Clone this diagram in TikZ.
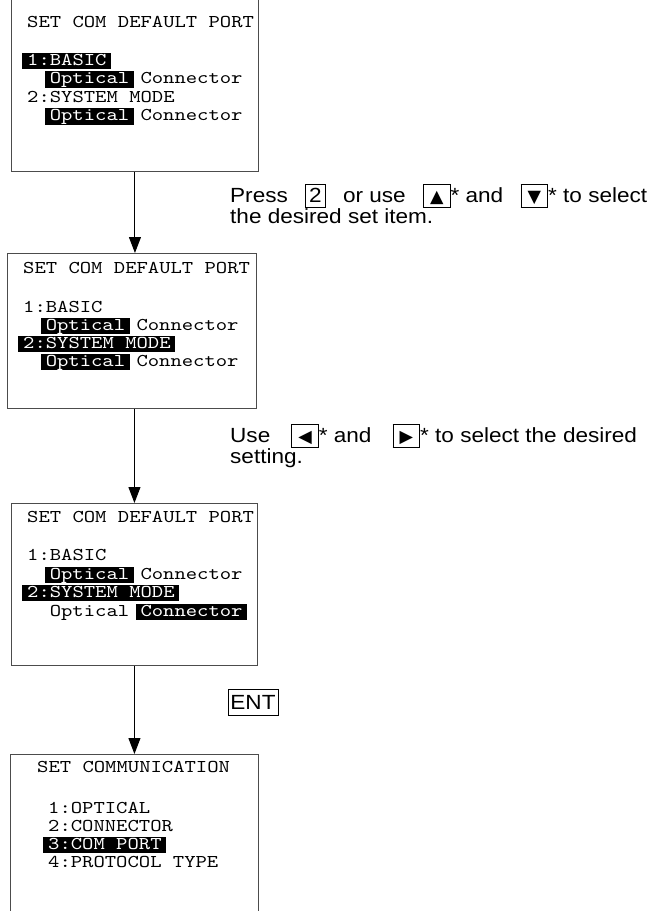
\documentclass[tikz,border=0pt]{standalone}
\usepackage{fontspec}
\setmainfont[FakeStretch=1.1]{Liberation Sans}
\newfontfamily\scrfont[FakeStretch=1.2]{lmmono10-regular.otf}
\newfontfamily\symfont{DejaVu Sans}
\usetikzlibrary{arrows.meta}
\newlength\hlw
\newcommand\hl[1]{\settowidth\hlw{#1}\rlap{\hspace{-5pt}\rule[-4pt]{\dimexpr\hlw+9.5pt\relax}{16.5pt}}\textcolor{white}{#1}}
\newcommand\keybox[2]{{\setlength\fboxsep{0pt}\setlength\fboxrule{0.8pt}\fbox{\makebox[#1]{\rule[-4.5pt]{0pt}{21.5pt}#2}}}}
\newcommand\tri[1]{\keybox{26pt}{{\symfont\fontsize{17.5}{17.5}\selectfont #1}}}
\newcommand\gapa{\hspace{17.3pt}}
\newcommand\gapb{\hspace{21pt}}
\begin{document}
\begin{tikzpicture}[x=1pt,y=-1pt,
  scr/.style={draw=black!70,line width=0.9pt,inner sep=0pt,anchor=north west},
  ln/.style={inner sep=0pt,anchor=base west,font=\scrfont\fontsize{18}{18}\selectfont},
  note/.style={inner sep=0pt,anchor=base west,font=\fontsize{20.5}{20.5}\selectfont},
  arr/.style={line width=1pt,-{Triangle[width=12pt,length=16pt]}}]
\useasboundingbox (0,0) rectangle (652,911);
\clip (0,0) rectangle (652,911);
% screens
\node[scr,minimum width=247pt,minimum height=174pt] (b1) at (11,-3) {};
\node[scr,minimum width=249pt,minimum height=155pt] (b2) at (7,253) {};
\node[scr,minimum width=246pt,minimum height=162pt] (b3) at (11,503) {};
\node[scr,minimum width=248pt,minimum height=170pt] (b4) at (10,754) {};
% screen 1
\node[ln] (s1t) at (27,27) {SET COM DEFAULT PORT};
\node[ln] (s1a) at (27,65) {\hl{1:BASIC}};
\node[ln] (s1b) at (49.6,83.5) {\hl{Optical} Connector};
\node[ln] (s1c) at (27,102) {2:SYSTEM MODE};
\node[ln] (s1d) at (49.6,120.5) {\hl{Optical} Connector};
% screen 2
\node[ln] (s2t) at (23,273) {SET COM DEFAULT PORT};
\node[ln] (s2a) at (23,312) {1:BASIC};
\node[ln] (s2b) at (45.6,330) {\hl{Optical} Connector};
\node[ln] (s2c) at (23,348) {\hl{2:SYSTEM MODE}};
\node[ln] (s2d) at (45.6,366) {\hl{Optical} Connector};
% screen 3
\node[ln] (s3t) at (27,522) {SET COM DEFAULT PORT};
\node[ln] (s3a) at (27,560) {1:BASIC};
\node[ln] (s3b) at (49.6,579) {\hl{Optical} Connector};
\node[ln] (s3c) at (27,597) {\hl{2:SYSTEM MODE}};
\node[ln] (s3d) at (49.6,616) {Optical \hl{Connector}};
% screen 4
\node[ln] (s4t) at (37,772) {SET COMMUNICATION};
\node[ln] (s4a) at (48,813) {1:OPTICAL};
\node[ln] (s4b) at (48,831) {2:CONNECTOR};
\node[ln] (s4c) at (48,849) {\hl{3:COM PORT}};
\node[ln] (s4d) at (48,867) {4:PROTOCOL TYPE};
% arrows
\draw[arr] (b1.south) -- (b1.south |- b2.north);
\draw[arr] (b3.north |- b2.south) -- (b3.north);
\draw[arr] (b3.south) -- (b3.south |- b4.north);
% notes
\node[note] (n1a) at (230,202) {Press\gapa\keybox{19pt}{2}\gapa or use\gapa\tri{▲}* and\gapa\tri{▼}* to select};
\node[note] (n1b) at (230,223) {the desired set item.};
\node[note] (n2a) at (230,442) {Use\gapb\tri{◀}* and\gapb\tri{▶}* to select the desired};
\node[note] (n2b) at (230,463) {setting.};
\node[draw,line width=0.8pt,inner sep=0pt,minimum width=50pt,minimum height=26pt,font=\fontsize{20.5}{20.5}\selectfont] (ent) at (253,702) {ENT};
\end{tikzpicture}
\end{document}
